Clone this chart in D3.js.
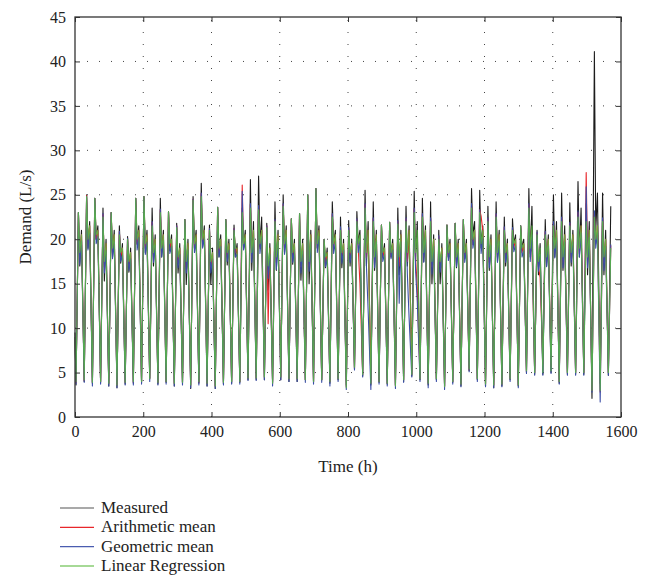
<!DOCTYPE html>
<html>
<head>
<meta charset="utf-8">
<script src="https://cdn.jsdelivr.net/npm/d3@7"></script>
<style>
  body { margin: 0; background: #fff; }
  svg text { font-family: "Liberation Serif", "DejaVu Serif", serif; fill: #222; }
</style>
</head>
<body>
<svg id="chart" width="655" height="576"></svg>
<script>
// hours of the day at which each daily point is read: night low, peak, dip, evening
var dayHours = [3, 10, 14, 19];
var xTicks = [0, 200, 400, 600, 800, 1000, 1200, 1400, 1600];
var yTicks = [0, 5, 10, 15, 20, 25, 30, 35, 40, 45];
var names = ["Measured", "Arithmetic mean", "Geometric mean", "Linear Regression"];
var startVal = [9.5, 9.0, 9.0, 9.0];

// measured (66 lows/peaks, 65 dips/evenings)
var lowM = [3.6,4.0,3.8,3.9,3.5,3.3,3.7,3.8,3.9,4.4, 3.7,3.9,3.5,3.8,3.2,3.8,3.5,3.2,3.7,3.8,
            3.9,4.2,4.2,4.2,4.0,4.2,4.0,4.0,4.2,3.9, 4.2,3.8,4.2,3.6,5.4,4.6,3.6,3.9,3.7,3.6,
            4.0,4.6,4.2,3.6,4.2,3.5,3.9,3.5,5.2,4.2, 3.5,3.3,3.5,4.2,3.5,5.0,4.8,4.8,5.0,3.8,
            4.8,4.8,4.8,2.1,3.8,4.7];
var peakM = [23.0,25.0,24.6,23.5,23.0,21.5,20.3,24.6,24.8,23.5, 24.6,23.1,21.8,22.2,24.8,26.3,21.6,23.6,22.2,21.6,
             23.5,26.7,27.1,21.8,24.2,25.0,22.3,22.9,25.0,25.7, 20.0,24.2,22.5,22.1,23.1,25.5,24.2,21.6,21.9,23.5,
             23.7,25.4,24.6,24.2,21.0,21.6,21.8,22.2,25.7,25.5, 23.7,24.2,22.5,22.3,21.5,25.7,21.0,22.2,25.0,25.2,
             24.1,26.5,24.0,41.1,25.2,23.7];
var dipM = [17,19,20,15.3,18,17.3,16.3,19.5,18.5,17, 18,18.7,16.2,14.9,19,19.2,14.9,18,17.1,18,
            19,16.5,19.2,14.3,16.5,18.5,17.2,15.4,15,19, 16.8,19.5,16.8,17,19.5,17,16.5,18,18,16,
            17,17.5,17.5,15,15,18,16.8,17.8,20.5,19, 16.5,17.5,17,19.5,19,18,16,17,18,16.5,
            17,18,16,21,16];
var eveM = [21,22,21.5,20,21,19.5,19,21.5,21,20.5, 21,20.5,19.5,20,21,21.5,19,20.5,20,19.5,
            21,22,22.5,19.5,21,21.5,20,20,21,21.5, 19,21,20,20,21,22,21,19.5,20,21,
            21.5,22,21.5,20.5,19.5,20,20,20,22,21.5, 20.5,21,20,20.5,20,23.7,19.5,20.5,22,21.5,
            21,23.5,22,25.2,21];

// arithmetic mean
var lowR = [3.9,4.1,3.9,4.0,3.8,3.6,3.9,3.9,4.0,4.3, 3.9,4.0,3.8,3.9,3.6,3.9,3.8,3.5,3.9,4.0,
            4.0,4.4,4.4,4.5,3.8,4.5,4.3,4.3,4.2,4.0, 4.2,4.0,4.3,3.4,5.5,4.8,3.8,4.0,3.8,3.5,
            4.2,4.8,4.3,3.8,4.3,3.4,4.0,3.7,5.3,4.3, 3.7,3.6,3.7,4.3,3.6,5.1,5.0,6.0,5.7,4.0,
            5.0,5.0,5.0,3.0,2.8,5.0];
var peakR = [23.0,24.9,24.6,22.8,23.0,20.8,20.1,24.6,24.8,21.9, 23.3,23.1,21.5,22.2,24.5,25.1,21.2,23.6,22.2,21.2,
             26.1,23.9,23.7,21.5,22.1,23.9,22.3,22.9,25.0,25.7, 20.0,22.8,21.3,21.2,22.2,23.9,22.3,21.6,21.9,22.0,
             22.3,23.4,22.8,22.3,20.3,21.6,21.8,22.2,23.9,23.3, 22.3,22.8,21.3,21.2,21.5,23.9,20.7,20.8,21.9,22.4,
             21.8,23.0,27.5,23.0,22.3,19.3];
var dipR = [17.9,19.4,20.0,16.9,18.4,18.0,17.0,19.4,19.0,18.0, 18.5,19.0,17.4,16.9,19.0,19.5,16.9,18.5,18.0,18.5,
            19.0,18.0,19.0,10.5,17.4,19.0,18.0,16.9,17.0,19.0, 17.4,19.0,18.0,18.0,19.0,17.9,17.4,18.0,18.0,17.0,
            17.5,17.9,18.0,16.9,16.9,18.0,17.4,18.0,19.4,22.6, 17.4,18.0,18.0,19.0,18.5,18.4,16.9,17.4,18.4,17.4,
            18.0,18.4,17.4,19.5,17.4];
var eveR = [20.5,21.5,21,19.5,20.5,19,18.5,21,20.5,20, 20.5,20,19,19.5,20.5,21,18.5,20,19.5,19,
            20.5,21,21,19,20.5,21,19.5,19.5,20.5,21, 18.5,20.5,19.5,19.5,15,21,20.5,19,19.5,20.5,
            21,14.5,21,20,19,19.5,19.5,19.5,21,21, 20,20.5,19.5,20,19.5,19.3,15.7,20,21,20.5,
            20.5,21.5,21,21.5,20];

// geometric mean
var lowB = [3.7,3.9,3.5,3.7,3.5,3.3,3.6,3.6,3.7,4.0, 3.6,3.7,3.5,3.6,3.3,3.6,3.5,3.2,3.6,3.7,
            3.7,4.1,4.1,4.2,3.5,4.2,4.0,4.0,3.9,3.7, 3.9,3.5,4.0,3.1,5.3,4.5,3.1,3.7,3.5,3.2,
            3.9,4.5,4.0,3.3,4.0,3.1,3.7,3.4,5.1,4.0, 3.4,3.3,3.4,4.0,3.3,4.9,4.7,4.7,4.9,3.7,
            4.7,4.7,4.7,2.8,1.7,4.7];
var peakB = [23.0,24.8,24.6,22.9,23.0,20.9,20.1,24.6,24.8,22.0, 23.4,23.1,21.5,22.2,24.5,25.2,21.2,23.6,22.2,21.2,
             25.4,24.0,23.8,21.5,22.2,24.0,22.3,22.9,25.0,25.7, 20.0,22.9,21.4,21.3,22.3,24.0,22.4,21.6,21.9,22.1,
             22.4,23.5,22.9,22.4,20.4,21.6,21.8,22.2,24.0,23.3, 22.4,22.9,21.4,21.3,21.5,24.0,20.8,20.9,22.0,22.5,
             21.9,23.2,25.9,23.2,22.4,19.4];
var dipB = [17.2,18.8,19.5,16.2,17.8,17.5,16.5,18.8,18.3,17.4, 18.0,18.4,16.8,16.2,18.5,19.0,16.2,18.0,17.5,18.0,
            18.8,17.4,18.4,15.6,16.6,18.3,17.4,16.2,16.4,18.5, 16.9,18.4,17.3,17.4,18.5,17.0,16.8,17.5,17.8,12.8,
            16.0,16.5,17.4,16.1,16.3,17.6,16.9,17.4,19.0,18.4, 16.8,17.4,17.4,18.6,18.0,17.5,16.4,16.9,17.9,16.8,
            17.4,18.0,16.8,19.0,16.5];
var eveB = [19.8,20.7,20.3,18.7,19.7,18.2,17.8,20.2,19.7,19.3, 19.8,19.2,18.3,18.8,19.7,20.2,17.8,19.2,18.8,18.3,
            19.8,20.2,20.3,18.3,19.7,20.2,18.8,18.7,19.7,20.3, 17.8,19.7,18.8,18.8,19.8,12.0,19.7,18.3,18.8,19.7,
            11.2,13.0,20.2,19.2,18.3,18.8,18.8,18.8,20.2,20.2, 19.3,19.7,18.8,19.3,18.7,20.5,18.3,19.2,20.2,19.7,
            19.7,20.7,20.2,20.7,19.2];

// linear regression
var lowG = [4.0,4.2,3.9,4.0,3.8,3.6,3.9,4.0,4.0,4.3, 3.9,4.0,3.8,3.9,3.6,4.0,3.8,3.5,3.9,4.0,
            4.0,4.4,4.4,4.5,3.8,4.5,4.3,4.3,4.2,4.0, 4.2,4.0,4.3,3.3,5.6,4.8,3.8,4.0,3.8,3.5,
            4.2,4.8,4.3,3.8,4.3,3.4,4.0,3.7,5.4,4.3, 3.7,3.6,3.7,4.3,3.6,5.2,5.0,5.0,5.2,4.0,
            5.0,5.0,5.0,3.0,3.0,5.0];
var peakG = [23.0,24.8,24.6,22.5,23.0,20.5,20.0,24.6,24.8,21.5, 23.0,23.1,21.3,22.2,24.4,24.8,21.0,23.6,22.2,21.0,
             23.0,23.5,23.3,21.3,22.0,23.7,22.3,22.9,25.0,25.7, 20.0,22.5,21.0,21.0,22.0,23.5,22.0,21.6,21.9,21.7,
             22.0,23.0,22.5,22.0,20.0,21.6,21.8,22.2,23.5,23.0, 22.0,22.5,21.0,21.0,21.5,23.5,20.5,20.5,21.5,22.0,
             21.5,22.5,22.0,22.5,22.0,19.0];
var dipG = [18.5,20,20.5,17.5,19,18.5,17.5,20,19.5,18.5, 19,19.5,18,17.5,19.5,20,17.5,19,18.5,19,
            19.5,18.5,19.5,17,18,19.5,18.5,17.5,17.5,19.5, 18,19.5,18.5,18.5,19.5,18.5,18,18.5,18.5,18,
            18.5,18.5,18.5,17.5,17.5,18.5,18,18.5,20,19.5, 18,18.5,18.5,19.5,19,19,17.5,18,19,18,
            18.5,19,18,20,18];
var eveG = [20.5,21.5,21,19.5,20.5,19,18.5,21,20.5,20, 20.5,20,19,19.5,20.5,21,18.5,20,19.5,19,
            20.5,21,21,19,20.5,21,19.5,19.5,20.5,21, 18.5,20.5,19.5,19.5,20.5,21,20.5,19,19.5,20.5,
            21,21,21,20,19,19.5,19.5,19.5,21,21, 20,20.5,19.5,20,19.5,21.5,19,20,21,20.5,
            20.5,21.5,21,21.5,20];

var colors = ["#1c1c1c", "#e8262b", "#3b4ea6", "#5bb843"];
var legendColors = ["#555555", "#e8262b", "#4a5cb0", "#a6d996"];

function buildSeries(start, low, peak, dip, eve) {
  var pts = [[0, start]];
  for (var d = 0; d < low.length; d++) {
    pts.push([24 * d + dayHours[0], low[d]]);
    pts.push([24 * d + dayHours[1], peak[d]]);
    if (d < dip.length) {
      pts.push([24 * d + dayHours[2], dip[d]]);
      pts.push([24 * d + dayHours[3], eve[d]]);
    }
  }
  return pts;
}

var series = [
  buildSeries(startVal[0], lowM, peakM, dipM, eveM),
  buildSeries(startVal[1], lowR, peakR, dipR, eveR),
  buildSeries(startVal[2], lowB, peakB, dipB, eveB),
  buildSeries(startVal[3], lowG, peakG, dipG, eveG)
];

var svg = d3.select("#chart");
var mLeft = 75, mRight = 621, mTop = 17, mBottom = 417;

var x = d3.scaleLinear().domain([0, 1600]).range([mLeft, mRight]);
var y = d3.scaleLinear().domain([0, 45]).range([mBottom, mTop]);

// dotted grid
var grid = svg.append("g");
grid.selectAll("line.gx").data(xTicks.slice(1, -1)).enter().append("line")
  .attr("x1", function(d){ return x(d); }).attr("x2", function(d){ return x(d); })
  .attr("y1", mBottom).attr("y2", mTop)
  .attr("stroke", "#444").attr("stroke-width", 1).attr("stroke-dasharray", "1,11");
grid.selectAll("line.gy").data(yTicks.slice(1, -1)).enter().append("line")
  .attr("y1", function(d){ return y(d); }).attr("y2", function(d){ return y(d); })
  .attr("x1", mLeft).attr("x2", mRight)
  .attr("stroke", "#444").attr("stroke-width", 1).attr("stroke-dasharray", "1,11");

// lines
var line = d3.line().x(function(d){ return x(d[0]); }).y(function(d){ return y(d[1]); });
series.forEach(function(s, i){
  svg.append("path").datum(s)
    .attr("d", line)
    .attr("fill", "none")
    .attr("stroke", colors[i])
    .attr("stroke-width", 1.1)
    .attr("stroke-linejoin", "round")
    .attr("opacity", i == 3 ? 0.85 : 1);
});

// axes, ticks inward on all four sides
var tickLen = 5;
var fmt = d3.format("d");
svg.append("g").attr("transform", "translate(0," + mBottom + ")")
  .call(d3.axisBottom(x).tickValues(xTicks).tickFormat(fmt).tickSizeInner(-tickLen).tickSizeOuter(0).tickPadding(9))
  .call(function(g){ g.select(".domain").remove(); g.selectAll("text").attr("font-size", 16); });
svg.append("g").attr("transform", "translate(" + mLeft + ",0)")
  .call(d3.axisLeft(y).tickValues(yTicks).tickFormat(fmt).tickSizeInner(-tickLen).tickSizeOuter(0).tickPadding(9))
  .call(function(g){ g.select(".domain").remove(); g.selectAll("text").attr("font-size", 16); });
svg.append("g").attr("transform", "translate(0," + mTop + ")")
  .call(d3.axisTop(x).tickValues(xTicks).tickSizeInner(-tickLen).tickSizeOuter(0).tickFormat(""))
  .call(function(g){ g.select(".domain").remove(); });
svg.append("g").attr("transform", "translate(" + mRight + ",0)")
  .call(d3.axisRight(y).tickValues(yTicks).tickSizeInner(-tickLen).tickSizeOuter(0).tickFormat(""))
  .call(function(g){ g.select(".domain").remove(); });
svg.selectAll(".tick line").attr("stroke", "#333");
svg.selectAll(".tick text").attr("fill", "#222").style("font-family", "'Liberation Serif', serif");

svg.append("rect").attr("x", mLeft).attr("y", mTop)
  .attr("width", mRight - mLeft).attr("height", mBottom - mTop)
  .attr("fill", "none").attr("stroke", "#333").attr("stroke-width", 1.3);

svg.append("text").attr("x", (mLeft + mRight) / 2).attr("y", 472)
  .attr("text-anchor", "middle").attr("font-size", 17).text("Time (h)");
svg.append("text").attr("transform", "translate(31," + ((mTop + mBottom) / 2) + ") rotate(-90)")
  .attr("text-anchor", "middle").attr("font-size", 17).text("Demand (L/s)");

// legend
var lg = svg.append("g");
names.forEach(function(n, i){
  var ly = 508 + i * 19.3;
  lg.append("line").attr("x1", 60).attr("x2", 94).attr("y1", ly).attr("y2", ly)
    .attr("stroke", legendColors[i]).attr("stroke-width", i == 3 ? 2 : 1.2);
  lg.append("text").attr("x", 101).attr("y", ly + 5).attr("font-size", 17).text(n);
});
</script>
</body>
</html>
